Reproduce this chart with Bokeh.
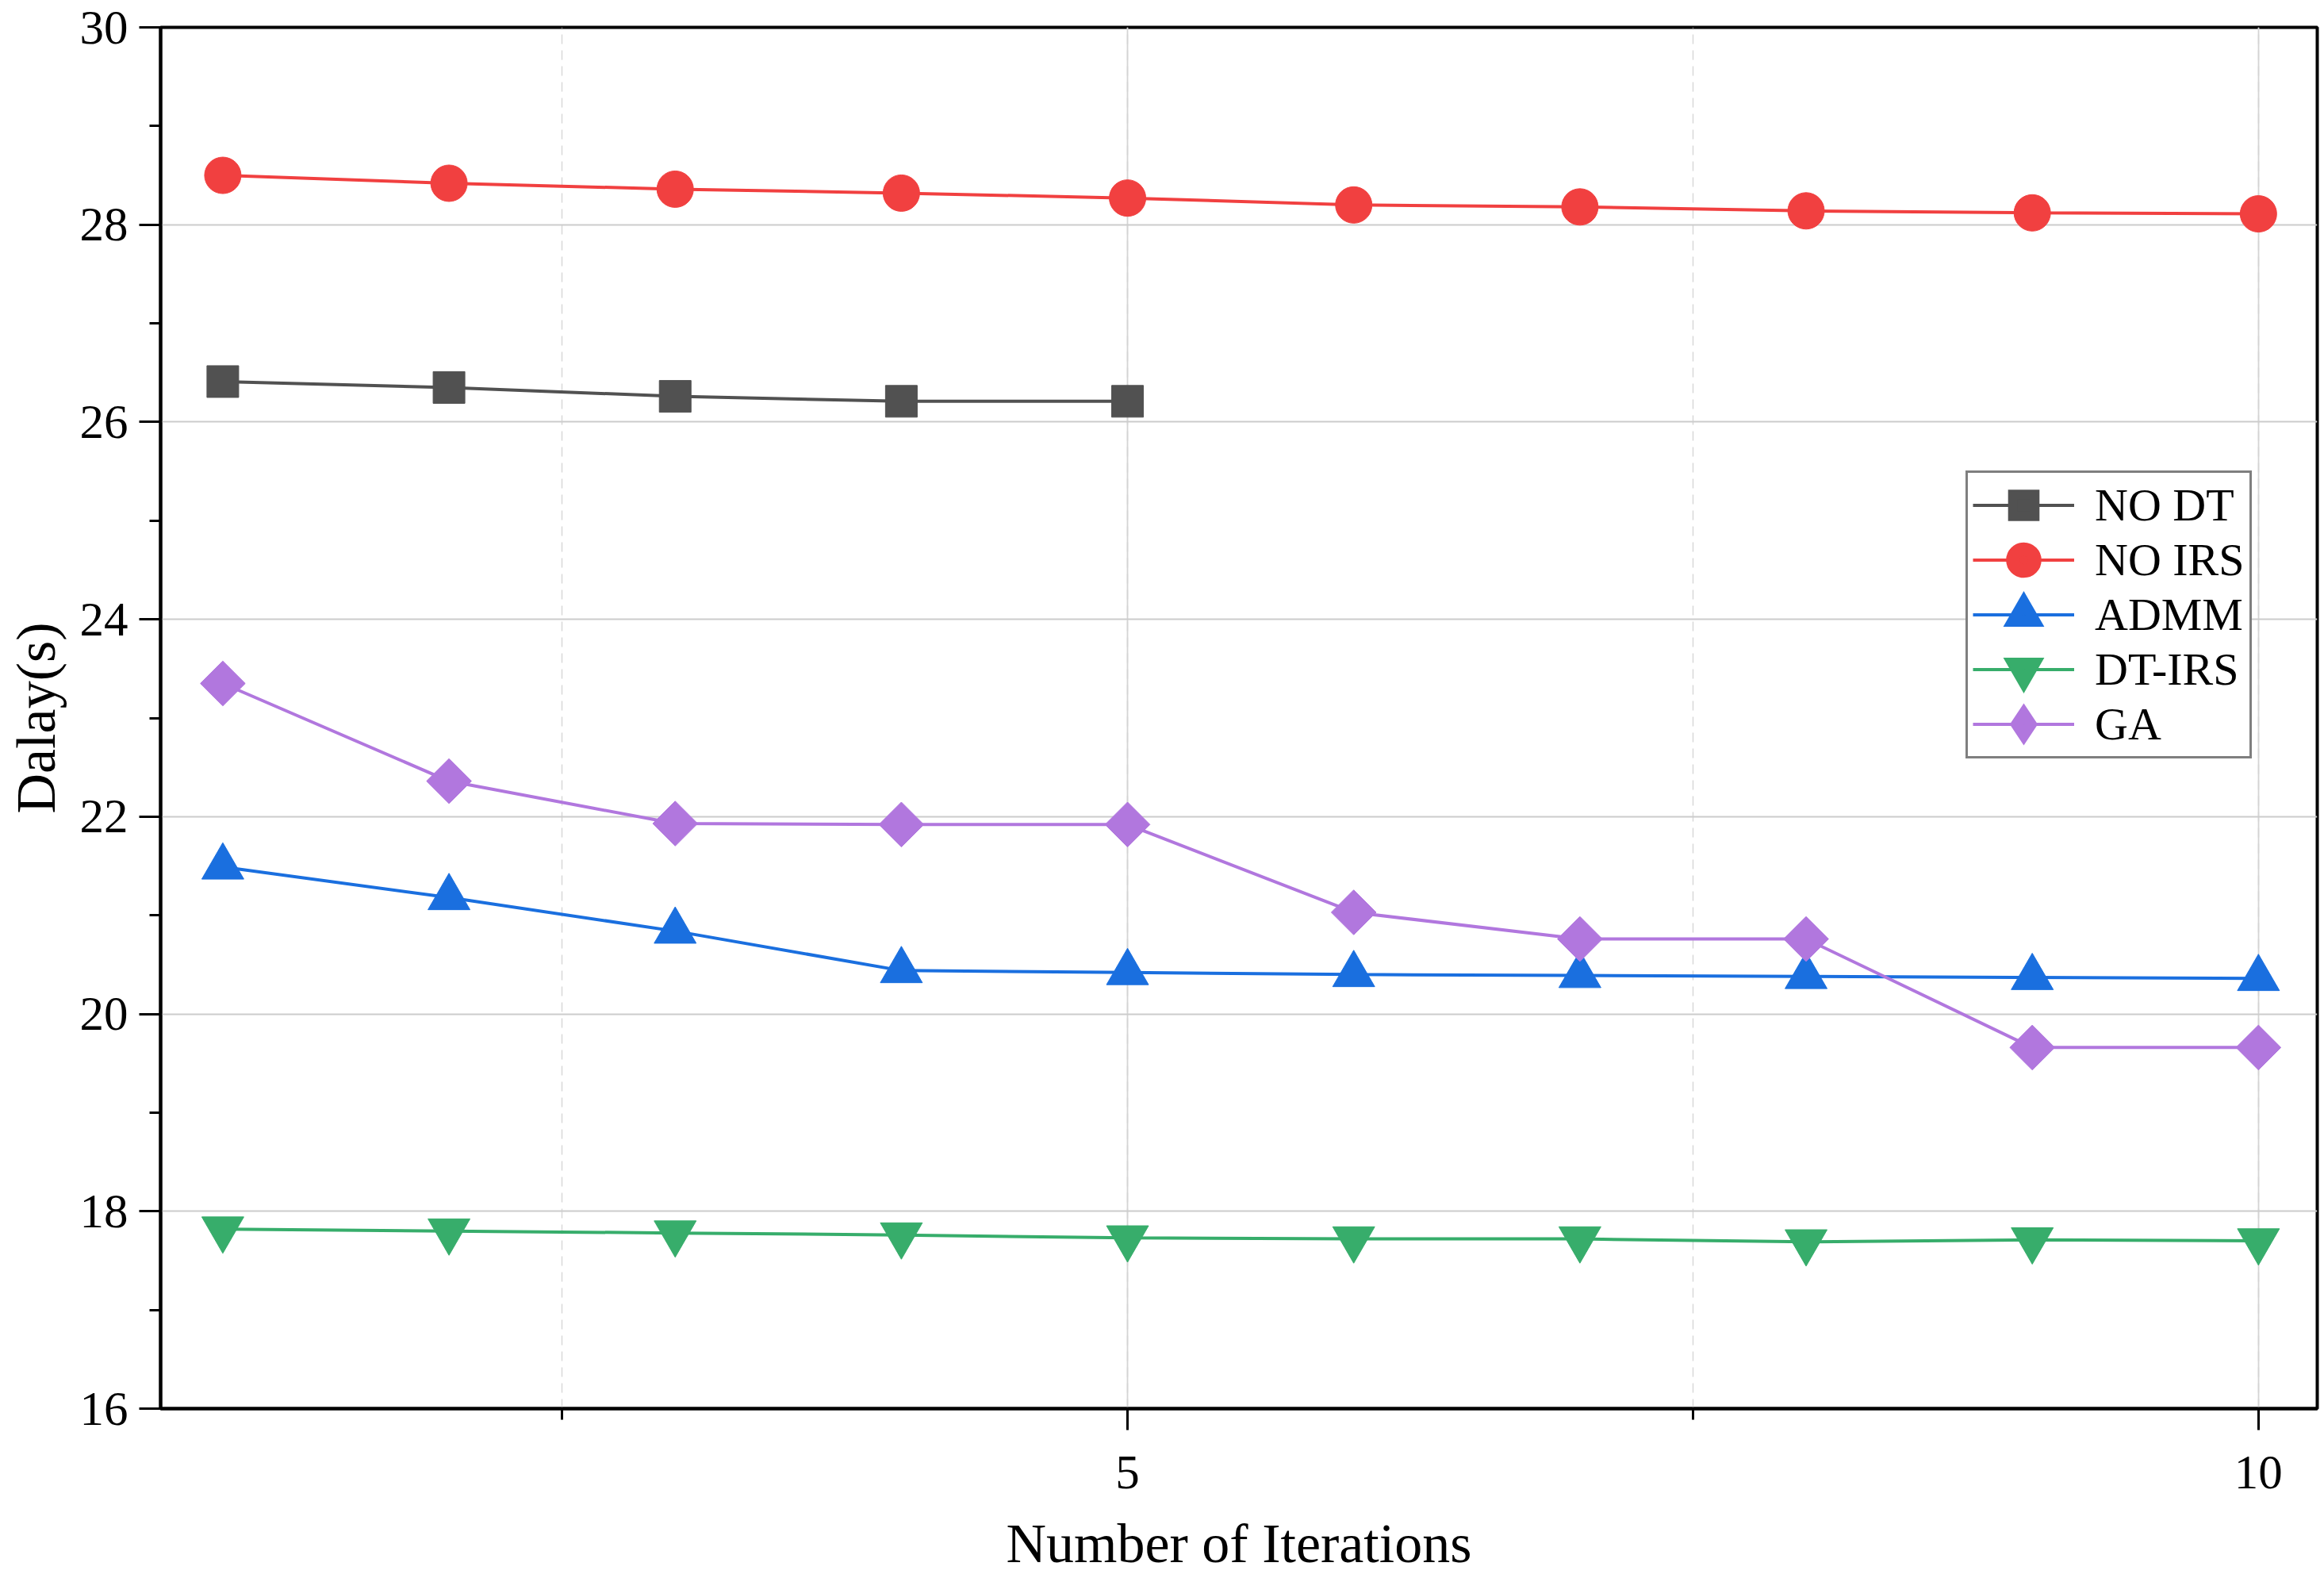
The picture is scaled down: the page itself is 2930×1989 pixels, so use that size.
import numpy as np
from bokeh.plotting import figure
from bokeh.models import SingleIntervalTicker, Range1d, Legend
from bokeh.embed import file_html
from bokeh.resources import INLINE

iterations = [1, 2, 3, 4, 5, 6, 7, 8, 9, 10]
no_dt_x = [1, 2, 3, 4, 5]
no_dt = [26.41, 26.35, 26.26, 26.21, 26.21]
no_irs = [28.50, 28.42, 28.36, 28.32, 28.27, 28.20, 28.18, 28.14, 28.12, 28.11]
admm = [21.49, 21.18, 20.84, 20.44, 20.42, 20.40, 20.39, 20.38, 20.37, 20.36]
dt_irs = [17.82, 17.80, 17.78, 17.76, 17.73, 17.72, 17.72, 17.69, 17.71, 17.70]
ga = [23.35, 22.36, 21.93, 21.92, 21.92, 21.03, 20.76, 20.76, 19.66, 19.66]

FONT = "Liberation Serif"

p = figure(frame_width=2719, frame_height=1741, output_backend="svg",
           toolbar_location=None, x_range=Range1d(0.725, 10.26),
           y_range=Range1d(16, 30), min_border_left=202, min_border_top=34,
           min_border_right=4, min_border_bottom=210)
p.background_fill_color = "white"
p.border_fill_color = "white"
p.outline_line_color = "black"
p.outline_line_width = 4

p.xaxis.ticker = SingleIntervalTicker(interval=5, num_minor_ticks=2)
p.yaxis.ticker = SingleIntervalTicker(interval=2, num_minor_ticks=2)

for ax in (p.xaxis, p.yaxis):
    ax.axis_line_width = 4
    ax.axis_line_color = "black"
    ax.major_tick_line_color = "black"
    ax.minor_tick_line_color = "black"
    ax.major_tick_line_width = 3
    ax.minor_tick_line_width = 3
    ax.major_tick_out = 27
    ax.major_tick_in = 0
    ax.minor_tick_out = 14
    ax.minor_tick_in = 0
    ax.major_label_text_font = FONT
    ax.major_label_text_font_size = "61px"
    ax.major_label_text_color = "black"
    ax.axis_label_text_font = FONT
    ax.axis_label_text_font_size = "70px"
    ax.axis_label_text_font_style = "normal"
    ax.axis_label_text_color = "black"

p.xaxis.axis_label = "Number of Iterations"
p.yaxis.axis_label = "Dalay(s)"
p.xaxis.major_label_standoff = 33
p.xaxis.axis_label_standoff = 28
p.yaxis.major_label_standoff = 14
p.yaxis.axis_label_standoff = 14

p.ygrid.grid_line_color = "#cccccc"
p.ygrid.grid_line_width = 2
p.xgrid.grid_line_color = "#d4d4d4"
p.xgrid.grid_line_width = 1.8
p.xgrid.minor_grid_line_color = "#d8d8d8"
p.xgrid.minor_grid_line_width = 1.5
p.xgrid.minor_grid_line_dash = "12 8"

# name, x, y, colour, plot marker, plot size, plot angle, legend marker, legend outline width
series = [
    ("NO DT", no_dt_x, no_dt, "#515151", "square", 40, 0.0, "square", 12),
    ("NO IRS", iterations, no_irs, "#F14040", "circle", 46, 0.0, "circle", 17),
    ("ADMM", iterations, admm, "#1A6FDF", "triangle", 53, 0.0, "triangle", 14),
    ("DT-IRS", iterations, dt_irs, "#37AD6B", "inverted_triangle", 53, 0.0, "inverted_triangle", 14),
    ("GA", iterations, ga, "#B177DE", "square", 40, np.pi / 4, "diamond", 14),
]

items = []
for name, xs, ys, color, marker, size, ang, leg_marker, leg_lw in series:
    l = p.line(xs, ys, line_color=color, line_width=4)
    p.scatter(xs, ys, marker=marker, size=size, angle=ang,
              fill_color=color, line_color=color, line_width=1)
    # hidden twin used only to draw the (larger) legend marker
    d = p.scatter(xs, ys, marker=leg_marker, size=size, visible=False,
                  fill_color=color, line_color=color, line_width=leg_lw,
                  line_join="miter")
    items.append((name, [l, d]))

legend = Legend(items=items, location=(2276, 819))
legend.border_line_color = "black"
legend.border_line_width = 3
legend.background_fill_color = "white"
legend.background_fill_alpha = 1.0
legend.inactive_fill_alpha = 0.0
legend.label_text_font = FONT
legend.label_text_font_size = "58px"
legend.label_text_color = "black"
legend.glyph_width = 128
legend.glyph_height = 69
legend.label_height = 60
legend.spacing = 0
legend.padding = 6
legend.label_standoff = 26
legend.margin = 0
p.add_layout(legend, "center")

open("out.html", "w").write(file_html(p, INLINE))
